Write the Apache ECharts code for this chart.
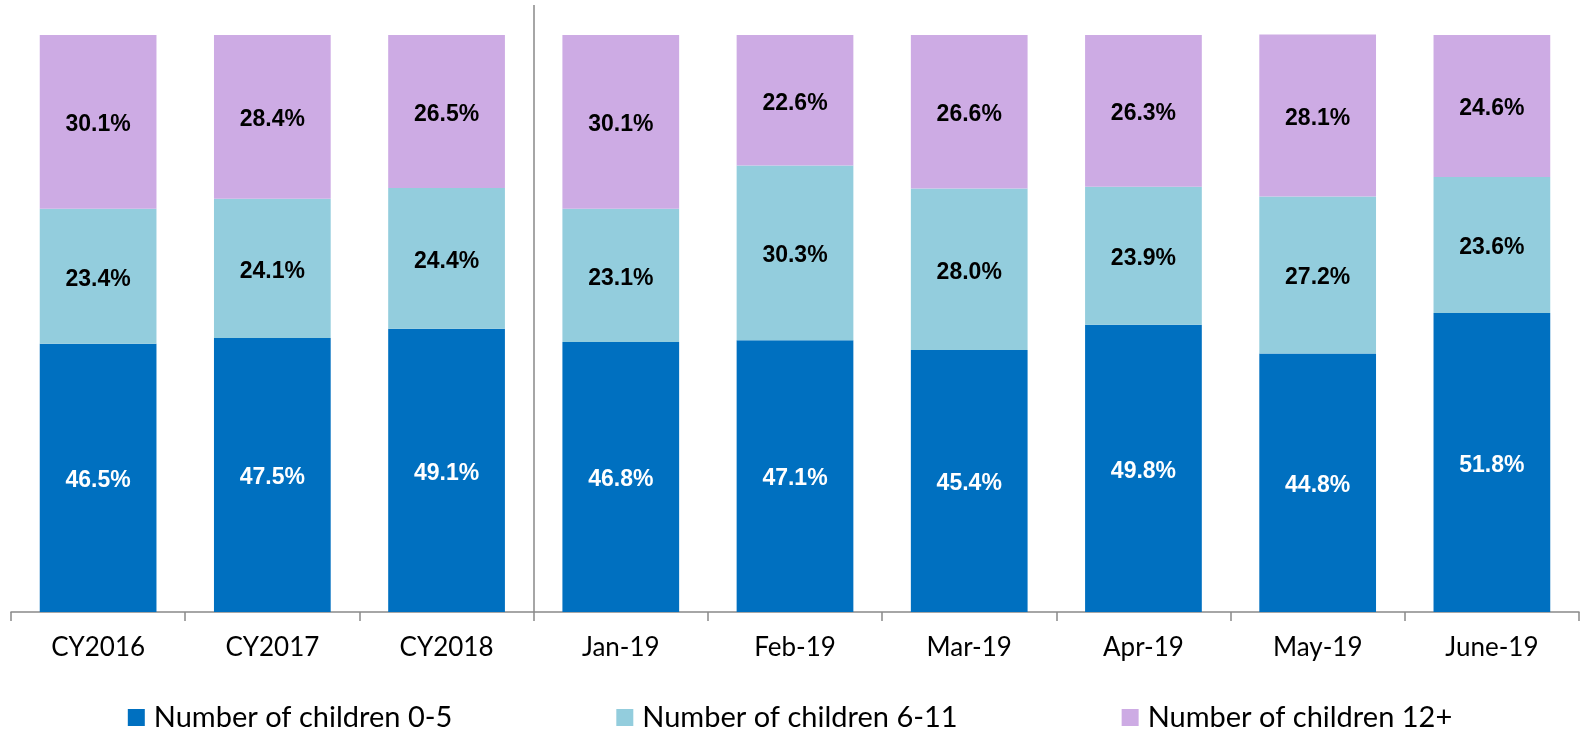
<!DOCTYPE html>
<html>
<head>
<meta charset="utf-8">
<script src="https://cdn.jsdelivr.net/npm/echarts@6/dist/echarts.min.js"></script>
<style>
  html, body { margin: 0; padding: 0; background: #ffffff; }
  #chart { width: 1580px; height: 731px; }
</style>
</head>
<body>
<div id="chart"></div>
<script>
const categories = ['CY2016', 'CY2017', 'CY2018', 'Jan-19', 'Feb-19', 'Mar-19', 'Apr-19', 'May-19', 'June-19'];
const seriesNames = ['Number of children 0-5', 'Number of children 6-11', 'Number of children 12+'];
const children0to5 = [46.5, 47.5, 49.1, 46.8, 47.1, 45.4, 49.8, 44.8, 51.8];
const children6to11 = [23.4, 24.1, 24.4, 23.1, 30.3, 28.0, 23.9, 27.2, 23.6];
const children12plus = [30.1, 28.4, 26.5, 30.1, 22.6, 26.6, 26.3, 28.1, 24.6];
const separatorIndex = 3; // vertical divider at the left edge of 'Jan-19'

const colors = ['#0070C0', '#93CDDD', '#CDABE4'];
const labelColors = ['#ffffff', '#000000', '#000000'];
const values = [children0to5, children6to11, children12plus];

const chart = echarts.init(document.getElementById('chart'), null, { renderer: 'canvas' });

const series = values.map((data, i) => ({
  name: seriesNames[i],
  type: 'bar',
  stack: 'total',
  data: data,
  xAxisIndex: 0,
  barCategoryGap: '33%',
  itemStyle: { color: colors[i] },
  label: {
    show: true,
    position: 'inside',
    offset: [0, 3],
    formatter: p => p.value.toFixed(1) + '%',
    color: labelColors[i],
    fontFamily: 'Liberation Sans',
    fontWeight: 'bold',
    fontSize: 23
  },
  emphasis: { disabled: true }
}));

// hidden helper series carrying the divider line on a boundary-aligned value axis
series.push({
  name: 'divider',
  type: 'line',
  xAxisIndex: 1,
  data: [[separatorIndex, 0]],
  symbol: 'none',
  showSymbol: false,
  lineStyle: { opacity: 0 },
  silent: true,
  markLine: {
    silent: true,
    symbol: 'none',
    label: { show: false },
    lineStyle: { color: '#898989', width: 1.5, type: 'solid' },
    emphasis: { disabled: true },
    data: [{ xAxis: separatorIndex }]
  }
});

chart.setOption({
  animation: false,
  backgroundColor: '#ffffff',
  color: colors,
  grid: { left: 11, right: 1, top: 5, bottom: 119, containLabel: false },
  xAxis: [{
    type: 'category',
    data: categories,
    boundaryGap: true,
    axisLine: { lineStyle: { color: '#898989', width: 1.5 } },
    axisTick: { show: true, length: 9, lineStyle: { color: '#898989', width: 1.5 } },
    axisLabel: {
      color: '#000000',
      fontFamily: 'Lato',
      fontSize: 26,
      margin: 23
    },
    splitLine: { show: false }
  }, {
    type: 'value',
    min: 0,
    max: categories.length,
    show: false,
    splitLine: { show: false }
  }],
  yAxis: {
    type: 'value',
    min: 0,
    max: 105.2,
    show: false,
    splitLine: { show: false }
  },
  legend: {
    data: seriesNames,
    top: 698,
    left: 'center',
    icon: 'rect',
    itemWidth: 17,
    itemHeight: 17,
    itemGap: 164,
    textStyle: {
      color: '#000000',
      fontFamily: 'Lato',
      fontSize: 29,
      padding: [0, 0, 0, 4]
    }
  },
  series: series
});
</script>
</body>
</html>
